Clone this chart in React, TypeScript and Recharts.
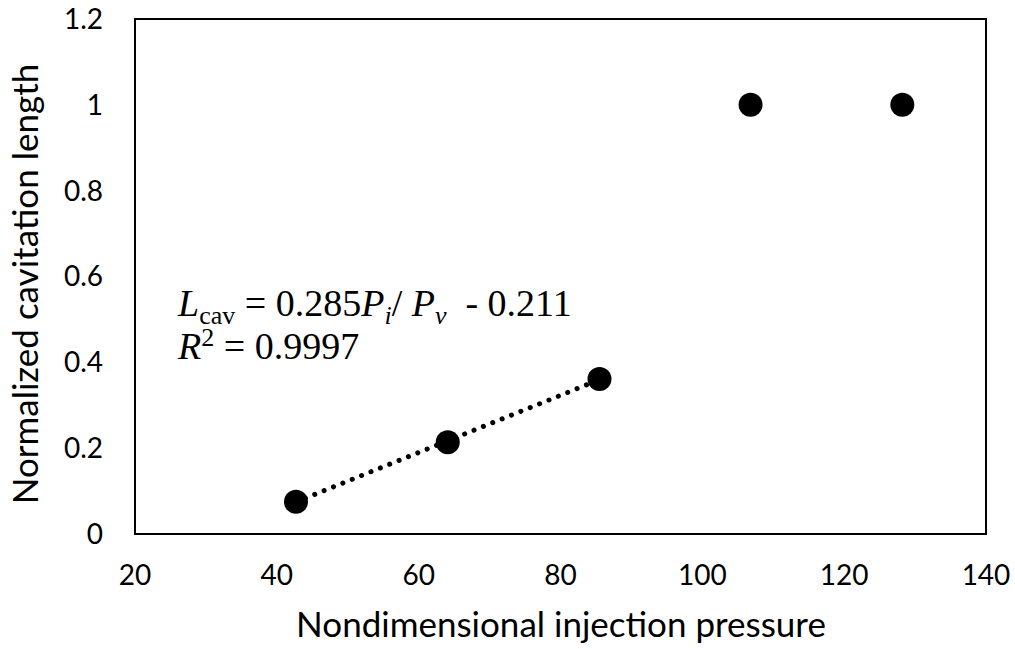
import { ScatterChart, Scatter, XAxis, YAxis, ReferenceArea, Customized } from 'recharts'

const pressure = [42.7, 64.1, 85.5, 106.8, 128.2]
const cavLength = [0.075, 0.214, 0.361, 1.0, 1.0]

const trendX = [42.7, 64.1, 85.5]
const trendY = [0.0747, 0.2172, 0.3597]

const xTicks = [20, 40, 60, 80, 100, 120, 140]
const yTicks = [0, 0.2, 0.4, 0.6, 0.8, 1, 1.2]

const points = pressure.map((x, i) => ({ x, y: cavLength[i] }))
const trend = trendX.map((x, i) => ({ x, y: trendY[i] }))

const sans = 'Lato, "Open Sans", sans-serif'
const serif = '"Liberation Serif", "Times New Roman", serif'

const Dot = (props: any) => <circle cx={props.cx} cy={props.cy} r={12} fill="#000" />

const Annotations = () => (
  <g>
    <text x={561} y={637} textAnchor="middle" fontFamily={sans} fontSize={35} fill="#000">
      Nondimensional injection pressure
    </text>
    <text
      x={38}
      y={284}
      textAnchor="middle"
      fontFamily={sans}
      fontSize={35}
      fill="#000"
      transform="rotate(-90 38 284)"
    >
      Normalized cavitation length
    </text>
    <text x={178} y={316} fontFamily={serif} fontSize={38} fill="#000" xmlSpace="preserve">
      <tspan fontStyle="italic">L</tspan>
      <tspan fontSize={26} dy={8}>cav</tspan>
      <tspan dy={-8}> = 0.285</tspan>
      <tspan fontStyle="italic">P</tspan>
      <tspan fontStyle="italic" fontSize={26} dy={8}>i</tspan>
      <tspan dy={-8}>/ </tspan>
      <tspan fontStyle="italic">P</tspan>
      <tspan fontStyle="italic" fontSize={26} dy={8}>v</tspan>
      <tspan dy={-8}>{'  - 0.211'}</tspan>
    </text>
    <text x={178} y={359} fontFamily={serif} fontSize={38} fill="#000">
      <tspan fontStyle="italic">R</tspan>
      <tspan fontSize={26} dy={-13}>2</tspan>
      <tspan dy={13}> = 0.9997</tspan>
    </text>
  </g>
)

export default function App() {
  return (
    <div style={{ position: 'absolute', left: 0, top: 0, background: '#fff' }}>
      <ScatterChart width={1015} height={649} margin={{ top: 19, right: 29, bottom: 0, left: 0 }}>
        <XAxis
          type="number"
          dataKey="x"
          domain={[20, 140]}
          ticks={xTicks}
          axisLine={false}
          tickLine={false}
          tickSize={0}
          tickMargin={31}
          height={115}
          tick={{ fill: '#000', fontSize: 28, fontFamily: sans }}
        />
        <YAxis
          type="number"
          dataKey="y"
          domain={[0, 1.2]}
          ticks={yTicks}
          axisLine={false}
          tickLine={false}
          tickSize={0}
          tickMargin={32}
          width={135}
          tick={{ fill: '#000', fontSize: 28, fontFamily: sans }}
        />
        <ReferenceArea x1={20} x2={140} y1={0} y2={1.2} fill="none" stroke="#000" strokeWidth={2} fillOpacity={0} />
        <Scatter
          data={trend}
          shape={() => null}
          line={{ stroke: '#000', strokeWidth: 5, strokeDasharray: '0.1 10', strokeLinecap: 'round' }}
          isAnimationActive={false}
        />
        <Scatter data={points} shape={Dot} isAnimationActive={false} />
        <Customized component={Annotations} />
      </ScatterChart>
    </div>
  )
}
